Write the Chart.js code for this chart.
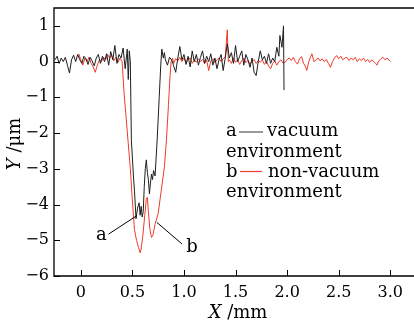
<!DOCTYPE html>
<html><head><meta charset="utf-8">
<script src="https://cdn.jsdelivr.net/npm/chart.js@4/dist/chart.umd.min.js"></script>
<style>html,body{margin:0;padding:0;background:#fff}#wrap{width:414px;height:326px}</style>
</head><body><div id="wrap"><canvas id="c" width="414" height="326"></canvas></div>
<script>
// vacuum environment (a)
const blackX = [-0.25,-0.23,-0.21,-0.19,-0.17,-0.15,-0.13,-0.11,-0.09,-0.07,-0.05,-0.03,-0.01,0.01,0.03,0.05,0.07,0.09,0.11,0.13,0.15,0.17,0.19,0.21,0.23,0.25,0.27,0.29,0.31,0.33,0.35,0.37,0.39,0.41,0.43,0.45,0.46,0.47,0.48,0.49,0.51,0.52,0.535,0.55,0.565,0.575,0.585,0.595,0.605,0.615,0.625,0.635,0.645,0.655,0.665,0.675,0.685,0.695,0.705,0.72,0.74,0.76,0.775,0.785,0.80,0.81,0.82,0.84,0.86,0.88,0.90,0.92,0.94,0.96,0.98,1.00,1.02,1.04,1.06,1.08,1.10,1.12,1.14,1.16,1.18,1.20,1.22,1.24,1.26,1.28,1.30,1.32,1.34,1.36,1.38,1.40,1.42,1.44,1.46,1.48,1.50,1.52,1.54,1.56,1.58,1.60,1.62,1.64,1.66,1.68,1.70,1.72,1.74,1.76,1.78,1.80,1.82,1.84,1.86,1.88,1.90,1.92,1.93,1.95,1.965,1.97];
const blackY = [0.05,0.15,-0.05,0.1,0.0,0.12,-0.1,-0.32,0.05,0.18,0.0,0.2,0.05,-0.05,0.15,0.08,-0.08,0.12,0.02,-0.12,0.1,0.2,-0.05,0.15,0.0,0.22,-0.1,0.28,0.05,0.45,-0.05,0.2,0.1,0.38,-0.2,0.35,-0.5,0.3,0.0,-2.2,-3.2,-3.6,-4.4,-4.1,-3.95,-4.3,-4.05,-4.35,-4.2,-3.5,-3.0,-2.75,-3.1,-3.3,-3.7,-3.4,-3.15,-3.3,-3.05,-3.2,-2.2,-1.0,-0.1,0.35,0.1,0.25,0.05,-0.1,0.12,0.05,-0.12,-0.3,0.1,0.42,0.05,0.2,-0.08,0.15,-0.15,0.3,0.0,0.2,-0.1,0.12,0.3,-0.05,0.15,0.0,0.22,-0.1,0.1,-0.2,0.05,0.2,-0.25,0.1,0.5,0.1,0.25,-0.05,0.45,0.0,0.15,0.3,-0.1,0.2,0.05,-0.16,0.1,-0.3,-0.39,0.0,0.3,0.05,0.15,-0.05,0.22,-0.05,0.1,0.0,0.4,0.15,0.73,0.4,1.0,-0.8];
// non-vacuum environment (b)
const redX = [-0.02,0.00,0.02,0.04,0.06,0.08,0.10,0.12,0.14,0.16,0.18,0.20,0.22,0.24,0.26,0.28,0.30,0.32,0.34,0.36,0.38,0.40,0.42,0.44,0.46,0.48,0.50,0.52,0.54,0.56,0.575,0.585,0.60,0.62,0.635,0.645,0.655,0.67,0.685,0.70,0.72,0.75,0.78,0.81,0.83,0.85,0.865,0.875,0.89,0.90,0.92,0.94,0.96,0.98,1.00,1.02,1.04,1.06,1.08,1.10,1.12,1.14,1.16,1.18,1.20,1.22,1.24,1.26,1.28,1.30,1.32,1.34,1.36,1.38,1.40,1.42,1.43,1.44,1.46,1.48,1.50,1.52,1.54,1.56,1.58,1.60,1.62,1.64,1.66,1.68,1.70,1.72,1.74,1.76,1.78,1.80,1.82,1.84,1.86,1.88,1.90,1.92,1.94,1.96,1.98,2.00,2.02,2.04,2.06,2.08,2.10,2.12,2.14,2.16,2.18,2.19,2.21,2.23,2.24,2.26,2.28,2.30,2.32,2.34,2.36,2.38,2.40,2.42,2.44,2.46,2.48,2.50,2.52,2.54,2.56,2.58,2.60,2.62,2.64,2.66,2.68,2.70,2.72,2.74,2.76,2.78,2.80,2.82,2.84,2.86,2.87,2.89,2.91,2.93,2.95,2.97,3.00];
const redY = [0.22,0.05,-0.1,0.1,0.0,0.12,-0.05,-0.15,-0.3,-0.1,0.05,0.0,0.12,0.05,0.2,0.1,0.18,0.02,0.12,-0.02,0.1,0.0,-0.9,-1.6,-2.3,-3.0,-3.9,-4.7,-5.0,-5.2,-5.35,-5.25,-4.9,-4.3,-3.85,-3.8,-4.2,-4.7,-4.92,-4.85,-4.55,-4.25,-3.6,-2.96,-2.2,-1.2,-0.4,0.0,0.1,-0.05,0.08,0.02,0.12,0.0,0.1,-0.04,0.06,0.1,-0.05,0.05,-0.02,0.08,0.0,0.06,-0.05,0.04,-0.25,0.02,0.08,-0.03,0.05,0.1,0.0,0.08,0.12,0.89,0.0,0.05,-0.05,0.1,-0.02,0.05,-0.08,0.02,0.1,-0.03,0.04,-0.07,0.0,0.06,-0.05,0.03,-0.02,0.05,-0.08,0.0,-0.12,-0.2,-0.05,0.02,-0.1,0.0,0.05,-0.04,-0.02,0.06,0.1,0.03,0.12,0.0,-0.07,0.08,0.14,-0.05,-0.15,-0.25,0.0,0.15,0.22,0.0,0.05,0.1,0.02,0.08,0.0,0.06,-0.05,-0.16,0.0,0.1,0.17,0.08,0.15,0.05,0.1,0.12,0.03,0.1,0.05,0.12,0.0,0.08,0.03,0.1,0.0,0.06,-0.02,0.05,0.0,-0.06,-0.1,0.02,0.08,0.12,0.05,0.1,0.0];
const xTicks = [0,0.5,1.0,1.5,2.0,2.5,3.0];
const xTickLabels = ["0","0.5","1.0","1.5","2.0","2.5","3.0"];
const yTicks = [-6,-5,-4,-3,-2,-1,0,1];
const yTickLabels = ["\u22126","\u22125","\u22124","\u22123","\u22122","\u22121","0","1"];
// annotation leader lines in data units: [label, labelX, labelY, x1,y1,x2,y2]
const annA = ["a", 0.20, -4.87, 0.268, -4.83, 0.543, -4.31];
const annB = ["b", 1.077, -5.2, 0.737, -4.5, 0.98, -5.1];

const SERIF = '"DejaVu Serif", serif';
const BLACK = '#1e1e1e', RED = '#ee3b2b';

const toPts = (xs, ys) => xs.map((x, i) => ({x, y: ys[i]}));

const deco = {
  id: 'deco',
  afterDraw(chart) {
    const {ctx, chartArea: a, scales: {x, y}} = chart;
    ctx.save();
    ctx.strokeStyle = '#000';
    ctx.lineWidth = 1.3;
    ctx.beginPath();
    ctx.moveTo(a.right, a.top); ctx.lineTo(a.left, a.top); ctx.lineTo(a.left, a.bottom); ctx.lineTo(a.right, a.bottom);
    ctx.stroke();
    ctx.lineWidth = 1;
    ctx.beginPath();
    xTicks.forEach(v => { const p = Math.round(x.getPixelForValue(v)) + 0.5; ctx.moveTo(p, a.bottom); ctx.lineTo(p, a.bottom - 6); });
    yTicks.forEach(v => { const p = Math.round(y.getPixelForValue(v)) + 0.5; ctx.moveTo(a.left, p); ctx.lineTo(a.left + 6, p); });
    ctx.stroke();
    // annotations
    ctx.fillStyle = '#000';
    ctx.font = '18px ' + SERIF;
    ctx.textAlign = 'center'; ctx.textBaseline = 'middle';
    [annA, annB].forEach(an => {
      ctx.fillText(an[0], x.getPixelForValue(an[1]), y.getPixelForValue(an[2]));
      ctx.beginPath();
      ctx.moveTo(x.getPixelForValue(an[3]), y.getPixelForValue(an[4]));
      ctx.lineTo(x.getPixelForValue(an[5]), y.getPixelForValue(an[6]));
      ctx.lineWidth = 1; ctx.stroke();
    });
    // legend
    ctx.textAlign = 'left'; ctx.textBaseline = 'alphabetic';
    ctx.fillText('a', 226, 136);
    ctx.fillText('vacuum', 267, 136);
    ctx.fillText('environment', 226, 157);
    ctx.fillText('b', 226, 177);
    ctx.fillText('non-vacuum', 268, 177);
    ctx.fillText('environment', 226, 197);
    ctx.lineWidth = 1.2;
    ctx.strokeStyle = '#555';
    ctx.beginPath(); ctx.moveTo(239, 132); ctx.lineTo(263, 132); ctx.stroke();
    ctx.strokeStyle = RED;
    ctx.beginPath(); ctx.moveTo(240, 171.5); ctx.lineTo(262, 171.5); ctx.stroke();
    // axis titles
    ctx.fillStyle = '#000';
    ctx.textBaseline = 'middle';
    const drawTitle = (cx, cy, rot, it, rest) => {
      ctx.save(); ctx.translate(cx, cy); ctx.rotate(rot);
      ctx.font = 'italic 18px ' + SERIF; const w1 = ctx.measureText(it).width;
      ctx.font = '18px ' + SERIF; const w2 = ctx.measureText(rest).width;
      const x0 = -(w1 + w2) / 2;
      ctx.textAlign = 'left';
      ctx.font = 'italic 18px ' + SERIF; ctx.fillText(it, x0, 0);
      ctx.font = '18px ' + SERIF; ctx.fillText(rest, x0 + w1, 0);
      ctx.restore();
    };
    drawTitle(238, 313, 0, 'X', ' /mm');
    drawTitle(15, 144, -Math.PI / 2, 'Y', ' /\u03bcm');
    ctx.restore();
  }
};

new Chart(document.getElementById('c'), {
  type: 'line',
  data: {
    datasets: [
      {label: 'vacuum environment', data: toPts(blackX, blackY), borderColor: BLACK, borderWidth: 1, pointRadius: 0, tension: 0, fill: false},
      {label: 'non-vacuum environment', data: toPts(redX, redY), borderColor: RED, borderWidth: 1, pointRadius: 0, tension: 0, fill: false}
    ]
  },
  options: {
    responsive: false, animation: false, devicePixelRatio: 1,
    layout: {padding: {top: 0, right: 0, left: 0, bottom: 0}},
    plugins: {legend: {display: false}, tooltip: {enabled: false}},
    scales: {
      x: {
        type: 'linear', min: -0.26, max: 3.23,
        grid: {display: false, drawTicks: false}, border: {display: false},
        afterBuildTicks: s => { s.ticks = xTicks.map(v => ({value: v})); },
        afterFit: s => { s.height = 50; s.paddingLeft = 0; s.paddingRight = 0; },
        ticks: {padding: 7, color: '#000', font: {family: SERIF, size: 16}, maxRotation: 0, autoSkip: false,
          callback: (v, i) => xTickLabels[i]}
      },
      y: {
        type: 'linear', min: -6, max: 1.5,
        grid: {display: false, drawTicks: false}, border: {display: false},
        afterBuildTicks: s => { s.ticks = yTicks.map(v => ({value: v})); },
        afterFit: s => { s.width = 54; s.paddingTop = 8; s.paddingBottom = 0; },
        ticks: {padding: 5, color: '#000', font: {family: SERIF, size: 16}, autoSkip: false,
          callback: (v, i) => yTickLabels[i]}
      }
    }
  },
  plugins: [deco]
});
</script></body></html>
